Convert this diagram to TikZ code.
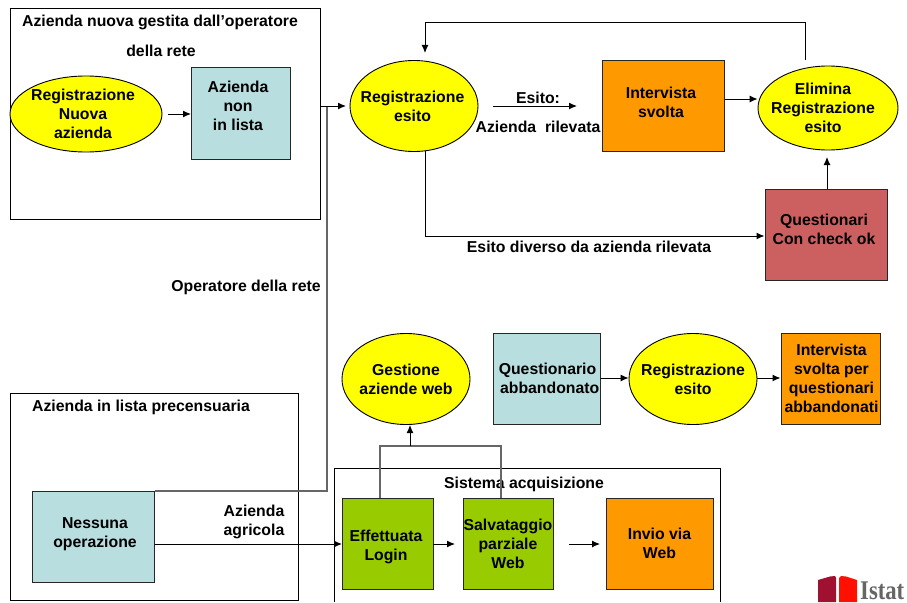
\documentclass[tikz,border=0pt]{standalone}
\usepackage{fontspec}
\usepackage{graphicx}
\setmainfont{Liberation Sans}
\newfontfamily\logofont{Liberation Serif}
\usetikzlibrary{arrows.meta,shapes.geometric}
\definecolor{ylw}{HTML}{FFFF00}
\definecolor{lblue}{HTML}{B8DEE0}
\definecolor{orng}{HTML}{FF9900}
\definecolor{grn}{HTML}{99CC00}
\definecolor{rosso}{HTML}{CC6060}
\definecolor{logodark}{HTML}{A01030}
\definecolor{logored}{HTML}{FF1000}
\tikzset{
 x=1pt,y=-1pt,
 every node/.style={font=\fontsize{15.8}{19}\selectfont\bfseries,align=center,inner sep=0pt},
 frame/.style={draw=black,line width=.9pt},
 ell/.style={ellipse,draw=black,fill=ylw,line width=.9pt},
 boxs/.style={draw=black!85,line width=1pt},
 conn/.style={draw=black,line width=1pt},
 arr/.style={conn,-{Latex[length=8pt,width=7pt]}},
 gline/.style={draw=black!60,line width=1.1pt}
}
\begin{document}
\begin{tikzpicture}
\useasboundingbox (0,0) rectangle (907,602);
% frames
\draw[frame] (10,8) rectangle (320,219);
\draw[frame] (10,393) -- (298,393) -- (298,600) -- (10,600) -- cycle;
\draw[frame] (334,602) -- (334,468) -- (720,468) -- (720,602);
% shapes
\node[ell,minimum width=152pt,minimum height=76pt,label={[xshift=-3pt]center:Registrazione\\Nuova\\azienda}] (rna) at (86,114) {};
\node[boxs,fill=lblue,minimum width=99pt,minimum height=91pt,label={[yshift=8pt,xshift=-2.5pt]center:Azienda\\non\\in lista}] (anl) at (240.5,113.5) {};
\node[ell,minimum width=128pt,minimum height=91pt,label={[xshift=-1.5pt]center:Registrazione\\esito}] (re) at (414,106) {};
\node[boxs,fill=orng,minimum width=122pt,minimum height=91pt,label={[yshift=4pt,xshift=-2pt]center:Intervista\\svolta}] (iv) at (663,106) {};
\node[ell,minimum width=140pt,minimum height=84pt,label={[xshift=-5pt]center:Elimina\\Registrazione\\esito}] (er) at (828,108) {};
\node[boxs,fill=rosso,minimum width=122pt,minimum height=91pt,label={[yshift=5pt,xshift=-2pt]center:Questionari\\Con check ok}] (qc) at (826,234.5) {};
\node[ell,minimum width=128pt,minimum height=91pt,label={center:Gestione\\aziende web}] (gw) at (406,379) {};
\node[boxs,fill=lblue,minimum width=107pt,minimum height=91pt,label={[xshift=1pt]center:Questionario\\\ abbandonato}] (qa) at (546.5,378.5) {};
\node[ell,minimum width=128pt,minimum height=91pt,label={center:Registrazione\\esito}] (re2) at (693,379) {};
\node[boxs,fill=orng,minimum width=99pt,minimum height=91pt,label={[xshift=1pt]center:Intervista\\svolta per\\questionari\\abbandonati}] (isq) at (830.5,378.5) {};
\node[boxs,fill=lblue,minimum width=122pt,minimum height=91pt,label={[yshift=2pt,xshift=2pt]center:Nessuna\\operazione}] (no) at (93,536.5) {};
\node[boxs,fill=grn,minimum width=91pt,minimum height=91pt,label={[yshift=-3pt,xshift=-2pt]center:Effettuata\\Login}] (el) at (388,543.5) {};
\node[boxs,fill=grn,minimum width=90pt,minimum height=91pt,label={center:Salvataggio\\parziale\\Web}] (sp) at (508,543.5) {};
\node[boxs,fill=orng,minimum width=107pt,minimum height=91pt,label={center:Invio via\\Web}] (iw) at (659.5,543.5) {};
% texts
\node (t1) at (160,22) {Azienda nuova gestita dall’operatore};
\node (t2) at (161,51) {della rete};
\node (t3) at (246,287) {Operatore della rete};
\node (t4) at (141,407) {Azienda in lista precensuaria};
\node (t5) at (538,98) {Esito:};
\node (t6) at (538,127) {Azienda\ \ rilevata};
\node (t7) at (589,247) {Esito diverso da azienda rilevata};
\node (t8) at (254,522) {Azienda\\agricola};
\node (t9) at (524,484) {Sistema acquisizione};
% connector coordinates
\coordinate (a1) at (168,114);
\coordinate (a2) at (191,114);
\coordinate (j) at (320,106);
\coordinate (j2) at (346,106);
\coordinate (b1) at (493,106);
\coordinate (b2) at (577,106);
\coordinate (c0) at (805,60);
\coordinate (c1) at (805,23);
\coordinate (c2) at (425,23);
\coordinate (c3) at (425,53);
\coordinate (d0) at (425,151);
\coordinate (d1) at (425,236);
\coordinate (e1) at (433,544);
\coordinate (e2) at (455,544);
\coordinate (f1) at (569,544);
\coordinate (f2) at (600,544);
\coordinate (g1) at (380,446);
\coordinate (g2) at (501,446);
\coordinate (g3) at (410,446);
\coordinate (g4) at (410,425);
\coordinate (h1) at (327,491);
\coordinate (h2) at (327,106);
% connectors
\draw[arr] (a1) -- (a2);
\draw[gline] (no.east |- h1) -- (h1) -- (h2);
\draw[arr] (j) -- (j2);
\draw[arr] (b1) -- (b2);
\draw[arr] (iv.east |- 0,99) -- (er.west |- 0,99);
\draw[arr] (c0) -- (c1) -- (c2) -- (c3);
\draw[arr] (d0) -- (d1) -- (qc.west |- d1);
\draw[arr] (qc.north -| 827,0) -- (827,157);
\draw[arr] (qa.east |- 0,378) -- (re2.west |- 0,378);
\draw[arr] (re2.east |- 0,378) -- (isq.west |- 0,378);
\draw[arr] (no.east |- 0,544) -- (el.west |- 0,544);
\draw[arr] (e1) -- (e2);
\draw[arr] (f1) -- (f2);
\draw[gline] (380,498) -- (g1) -- (g2) -- (501,498);
\draw[arr] (g3) -- (g4);
% logo
\fill[logodark] (818,580) -- (830,576.5) -- (835,576) -- (836,578) -- (836,602) -- (818,602) -- cycle;
\fill[logored] (839,578) -- (841,576) -- (846,576.5) -- (857,580) -- (857,602) -- (839,602) -- cycle;
\node[anchor=base west,text=black!60,font=\logofont\fontsize{27}{27}\selectfont\bfseries] (logo) at (860,599.5) {\scalebox{.84}[1]{Istat}};
\end{tikzpicture}
\end{document}
